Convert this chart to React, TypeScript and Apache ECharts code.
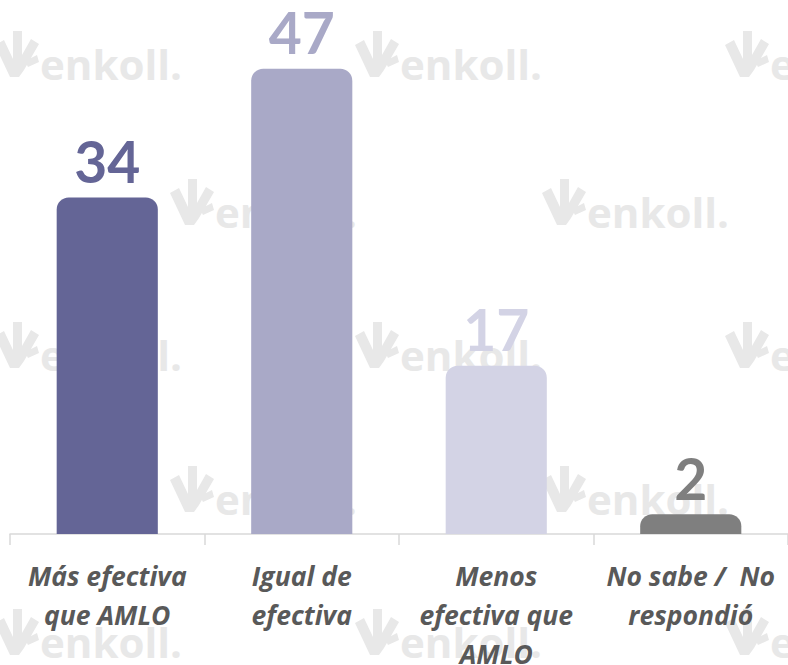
import React, { useEffect, useRef } from "react";
import * as echarts from "echarts";

const categories = [
  "Más efectiva\nque AMLO",
  "Igual de\nefectiva",
  "Menos\nefectiva que\nAMLO",
  "No sabe /  No\nrespondió",
];
const values = [34, 47, 17, 2];
const barColors = ["#646596", "#A9A9C7", "#D3D3E5", "#7F7F7F"];

const logoPath =
  "M0 14 L9 9 L18 28 L18 0 L27 0 L27 24 L36 8 L44 13 L29 39 L24 46 L15 46 Z M30 30 L42 24 L44 31 L33 36 Z";

const wmRows = [
  { y: 77, xs: [-5, 355, 725] },
  { y: 225, xs: [170, 542] },
  { y: 368, xs: [-5, 355, 725] },
  { y: 512, xs: [170, 542] },
  { y: 655, xs: [-5, 355, 725] },
];

export default function App() {
  const ref = useRef<HTMLDivElement>(null);
  useEffect(() => {
    document.body.style.margin = "0";
    echarts.graphic.registerShape("logo", echarts.graphic.extendPath(logoPath, {}) as any);
    const chart = echarts.init(ref.current!, null, { renderer: "svg" });
    const wm: any[] = [];
    wmRows.forEach((r) => {
      r.xs.forEach((x) => {
        wm.push({
          type: "logo",
          x: x,
          y: r.y - 46,
          z: 0,
          style: { fill: "#E8E8E8" },
          silent: true,
        });
        wm.push({
          type: "text",
          x: x + 45,
          y: r.y - 14,
          z: 0,
          silent: true,
          style: {
            text: "enkoll.",
            fill: "#E8E8E8",
            font: "bold 42px 'Open Sans'",
            textVerticalAlign: "middle",
          },
        });
      });
    });
    chart.setOption({
      animation: false,
      graphic: wm,
      grid: { left: 10, right: 0, top: 39, bottom: 131, outerBoundsMode: "none", containLabel: false },
      xAxis: {
        type: "category",
        data: categories,
        axisLine: { lineStyle: { color: "#D9D9D9", width: 1.5 } },
        axisTick: { show: true, length: 11, lineStyle: { color: "#D9D9D9", width: 1.5 } },
        axisLabel: {
          interval: 0,
          margin: 22,
          fontSize: 26.5,
          lineHeight: 39,
          fontStyle: "italic",
          fontWeight: "bold",
          fontFamily: "Open Sans",
          color: "#595959",
          align: "center",
        },
      },
      yAxis: {
        type: "value",
        min: 0,
        max: 50,
        show: false,
        splitLine: { show: false },
      },
      series: [
        {
          type: "bar",
          barWidth: "52%",
          z: 2,
          data: values.map((v, i) => ({
            value: v,
            itemStyle: { color: barColors[i], borderRadius: [12, 12, 0, 0] },
            label: { color: barColors[i] },
          })),
          label: {
            show: true,
            position: "top",
            distance: 8,
            fontSize: 57,
            lineHeight: 57,
            fontWeight: "bold",
            fontFamily: "Lato",
          },
        },
      ],
    });
    return () => chart.dispose();
  }, []);
  return <div ref={ref} style={{ width: 788, height: 665 }} />;
}
